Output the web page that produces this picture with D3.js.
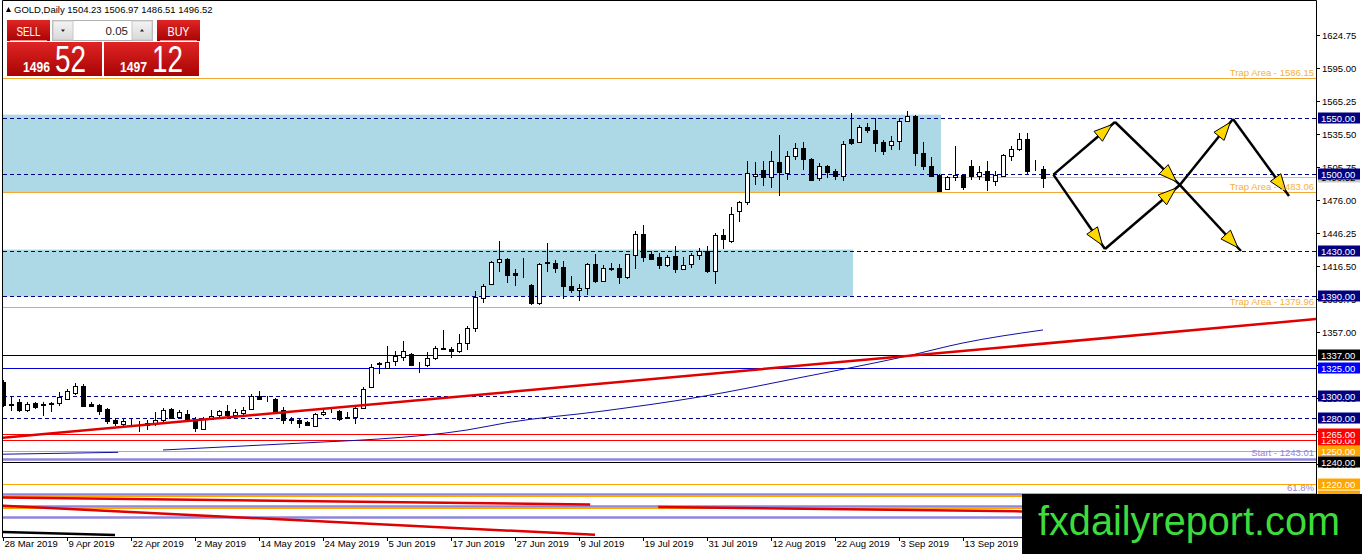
<!DOCTYPE html>
<html>
<head>
<meta charset="utf-8">
<script src="https://cdn.jsdelivr.net/npm/d3@7"></script>
<style>
    body { margin: 0; background: #fff; }
    svg text { font-family: "Liberation Sans", Arial, sans-serif; }
</style>
</head>
<body>
<svg id="chart" width="1362" height="554"></svg>
<script>
/* GOLD daily, 28 Mar 2019 - 27 Sep 2019 */

// price ticks on the right axis
const tickValues = [1624.75, 1595.00, 1565.25, 1535.50, 1505.75, 1476.00, 1446.25, 1416.50,
    1386.75, 1357.00, 1327.25, 1297.50, 1267.75, 1238.00, 1208.25];

// date labels, one every 8 bars from bar 0
const dateLabels = ["28 Mar 2019", "9 Apr 2019", "22 Apr 2019", "2 May 2019", "14 May 2019",
    "24 May 2019", "5 Jun 2019", "17 Jun 2019", "27 Jun 2019", "9 Jul 2019", "19 Jul 2019",
    "31 Jul 2019", "12 Aug 2019", "22 Aug 2019", "3 Sep 2019", "13 Sep 2019"];

// daily candles
const open = [1312, 1292.5, 1294, 1287.5, 1293, 1292, 1293, 1293, 1297.5, 1303,
    1309, 1292.5, 1291.5, 1288, 1277.6, 1274.3, 1276, 1275.3, 1273.7, 1274.6,
    1277.6, 1287.5, 1280.6, 1283.6, 1278.5, 1270, 1279, 1282, 1285.7, 1282,
    1283.6, 1288.7, 1300, 1297.4, 1297, 1286.6, 1278.5, 1277.7, 1276, 1273.2,
    1283.6, 1285.4, 1285.7, 1280, 1280.6, 1288.7, 1307.6, 1328.5, 1325.5, 1330.6,
    1335.4, 1337.5, 1327.9, 1327, 1333.6, 1342.3, 1342, 1339.6, 1347, 1360.5,
    1388.4, 1400.9, 1420.4, 1423.4, 1410.2, 1410, 1399.4, 1383.9, 1419.5, 1419.2,
    1416.2, 1398.8, 1395.8, 1397.3, 1418.9, 1403.3, 1415.3, 1414.7, 1406.3, 1427.2,
    1445.8, 1427.8, 1425.2, 1418, 1425.8, 1414.4, 1418.9, 1427, 1430.2, 1412.3,
    1444.9, 1439.2, 1465.9, 1474.2, 1498, 1503, 1497, 1510.4, 1501.2, 1515.5,
    1523, 1513.1, 1496.1, 1507.2, 1502.7, 1497.6, 1531.1, 1528.1, 1541.9, 1539.5,
    1528.1, 1525.4, 1529, 1547, 1552, 1518.5, 1507.2, 1499.1, 1485.6, 1496.7,
    1498.8, 1507.2, 1498.2, 1502.1, 1494, 1498.2, 1516.1, 1522.1, 1531.1, 1503.6,
    1504.23];
const high = [1314, 1300, 1296.5, 1294, 1294.5, 1294, 1294.5, 1303, 1306, 1311.5,
    1310.5, 1294, 1292.5, 1288.7, 1279.7, 1278.5, 1278.5, 1277, 1277.6, 1285,
    1288.7, 1288.7, 1286.6, 1286.6, 1280.6, 1280.6, 1286.6, 1286.6, 1291.7, 1288,
    1289.6, 1301.6, 1303.7, 1300, 1297.7, 1289.6, 1280.6, 1279, 1276.7, 1284,
    1287, 1288, 1286.6, 1285, 1290, 1307.6, 1328.4, 1330, 1345, 1340.5,
    1348.9, 1338.4, 1330.6, 1339, 1345, 1359, 1343.5, 1355.5, 1362.9, 1394.3,
    1400.3, 1421.3, 1439.2, 1424.3, 1413.8, 1424.3, 1400.5, 1419.5, 1437.7, 1422.2,
    1421.3, 1407.8, 1400.3, 1419.8, 1427.2, 1417.4, 1419.8, 1418.3, 1427.8, 1448.2,
    1453.3, 1430.2, 1428.7, 1426.4, 1434.7, 1425.2, 1428.7, 1433.2, 1434.7, 1446.7,
    1449.7, 1469.7, 1475.1, 1511, 1510, 1511, 1520, 1535, 1520, 1527.5,
    1528.1, 1514, 1509.6, 1508, 1504.2, 1529, 1554.4, 1544, 1545.5, 1549.9,
    1530.5, 1533.5, 1550, 1555.9, 1552.9, 1528.1, 1514.9, 1500, 1498.2, 1524.5,
    1500, 1512.5, 1506.6, 1511.6, 1502.1, 1517.9, 1525.1, 1536.5, 1536.5, 1512.5,
    1506.97];
const low = [1289.5, 1286.5, 1285, 1285, 1288, 1282, 1285, 1291, 1296.5, 1300.5,
    1289.5, 1289.5, 1282.7, 1274.6, 1272.5, 1272.5, 1273, 1267, 1268.6, 1273,
    1276, 1278.5, 1279, 1276, 1267, 1268.6, 1277.6, 1279.7, 1279.7, 1280.6,
    1282, 1287.5, 1295.6, 1294, 1285.7, 1274.6, 1274.6, 1270.8, 1272.5, 1272,
    1282, 1284.6, 1276.7, 1279, 1274.7, 1288, 1306.6, 1319.6, 1324, 1327,
    1331.5, 1326.4, 1320.4, 1325.5, 1332.4, 1341.4, 1333.6, 1338.4, 1341.4, 1357.5,
    1383.3, 1399.4, 1411.4, 1401.8, 1398.8, 1406.3, 1381.8, 1382, 1411.4, 1410.2,
    1386.9, 1392.2, 1385.4, 1390.4, 1401.2, 1402.4, 1412.3, 1400.3, 1404.8, 1414.4,
    1420.4, 1422.8, 1414.4, 1416.2, 1410.8, 1413.2, 1415, 1422.2, 1410.8, 1400.3,
    1431.7, 1437.2, 1456.3, 1471.8, 1490, 1488.6, 1487.1, 1479.6, 1494.6, 1512.5,
    1503.6, 1493.1, 1493.1, 1496.1, 1494.6, 1493.7, 1526, 1528.1, 1536.5, 1519.1,
    1517, 1521.5, 1521.5, 1546.1, 1506.6, 1503.6, 1497, 1484.1, 1485, 1493.1,
    1485, 1494.6, 1494.6, 1484.1, 1488.6, 1497, 1511, 1520, 1500, 1502.1,
    1486.51];
const close = [1291, 1292, 1286.5, 1292.5, 1289.5, 1292.5, 1293.5, 1298.5, 1304.5, 1309,
    1291, 1290.5, 1286.5, 1277.6, 1274.6, 1276.7, 1276.3, 1275, 1275.5, 1277.6,
    1286.6, 1279.7, 1285, 1277.6, 1270, 1279, 1282, 1285.7, 1282, 1285,
    1286.6, 1300, 1297, 1297.7, 1286.6, 1277.7, 1279, 1274.7, 1273, 1283.6,
    1285, 1285.7, 1278.5, 1280.6, 1288.7, 1306.1, 1325.5, 1329, 1330.6, 1335.4,
    1340.5, 1327.6, 1327.6, 1333.6, 1342.9, 1342.8, 1340.2, 1347, 1360.5, 1388.4,
    1398.8, 1420.4, 1423.4, 1409.3, 1408.4, 1410.4, 1383.3, 1418.9, 1420, 1415,
    1398.8, 1395.2, 1397.3, 1418.9, 1403.3, 1415.3, 1414.4, 1406.3, 1427.2, 1445.8,
    1425.2, 1423.7, 1418, 1425.2, 1414.4, 1418, 1427, 1430.2, 1412.3, 1444.9,
    1441.3, 1463.8, 1474.2, 1500.6, 1500, 1497, 1511.6, 1501.2, 1516.1, 1523,
    1513.1, 1494.6, 1507.2, 1502.1, 1498.2, 1526.6, 1527.5, 1541.9, 1538.9, 1527.5,
    1520, 1529, 1547, 1551.4, 1518.5, 1506.6, 1498.2, 1485, 1496.7, 1498.8,
    1488, 1498.2, 1501.5, 1494, 1499.1, 1516.7, 1522.1, 1531.1, 1502.1, 1503.6,
    1496.52];

// horizontal levels
const dashedLevels = [1550, 1500, 1430, 1390, 1300, 1280];
const blackLevels = [1337, 1240];
const blueLevels = [1325];
const redLevels = [1260, 1265];
const orangeLevels = [1250, 1220, 1210, 1198.8];
const orangeBoxLevels = [1250, 1220, 1210];
const trapLevels = [1586.15, 1483.06, 1379.96];
const fibLevels = [1243.01, 1211.0, 1201.0, 1190.7];
const fibNames = ["Start - 1243.01", "61.8%", "", ""];
const bidPrice = 1496.52;

// shaded zones: top price, bottom price, last bar
const zoneTop = [1553.0, 1431.5];
const zoneBottom = [1483.06, 1389.2];
const zoneEndBar = [117, 106];

// red trend line (two anchor points, bar index / price)
const trendBars = [-1, 166];
const trendPrices = [1261.4, 1370.2];

// moving average
const maBars = [20, 30, 40, 47, 58, 63, 75, 87, 100, 113, 120, 130];
const maValues = [1251.0, 1254.6, 1258.2, 1260.9, 1269.0, 1275.6, 1286.1, 1298.7, 1316.7, 1335.6, 1347.4, 1359.1];
const maStartBars = [0, 14.4];
const maStartValues = [1247.2, 1248.9];

// lower lines near the bottom edge
const lowRedFrom = [[-0.5, 1208.2], [81.9, 1199.7], [-0.5, 1201.0]];
const lowRedTo = [[73.4, 1201.9], [127.4, 1195.7], [74.0, 1174.6]];
const lowBlackFrom = [-0.5, 1177.2];
const lowBlackTo = [14.0, 1174.5];

// projected path arrows
const arrowFrom = [[131.3, 1499], [139, 1546.4], [131.3, 1499], [137.75, 1432], [147.1, 1489.7], [153.75, 1549.1], [147.1, 1489.7]];
const arrowTo = [[139, 1546.4], [147.1, 1489.7], [137.75, 1432], [147.1, 1489.7], [153.75, 1549.1], [160.75, 1479.8], [154.75, 1430.2]];

const svg = d3.select("#chart");
const plotLeft = 3, plotRight = 1316, plotTop = 1, plotBottom = 537;

const y = d3.scaleLinear().domain([1624.75, 1357]).range([35, 332.3]);
const x = d3.scaleLinear().domain([0, 8]).range([3, 67]);

svg.append("rect").attr("width", 1362).attr("height", 554).attr("fill", "#fff");

const defs = svg.append("defs");
defs.append("clipPath").attr("id", "plot")
    .append("rect").attr("x", plotLeft).attr("y", plotTop)
    .attr("width", plotRight - plotLeft).attr("height", plotBottom - plotTop);

const g = svg.append("g").attr("clip-path", "url(#plot)");

function hline(level, color, width, dash) {
    g.append("line")
        .attr("x1", plotLeft).attr("x2", plotRight)
        .attr("y1", Math.round(y(level)) + 0.5).attr("y2", Math.round(y(level)) + 0.5)
        .attr("stroke", color).attr("stroke-width", width)
        .attr("stroke-dasharray", dash || null);
}

// bid line under the zones
hline(bidPrice, "#c0c0c0", 1);

// zones
zoneTop.forEach((t, i) => {
    g.append("rect")
        .attr("x", 0).attr("y", y(t))
        .attr("width", x(zoneEndBar[i]) + 2)
        .attr("height", y(zoneBottom[i]) - y(t))
        .attr("fill", "#add8e6");
});

trapLevels.forEach(l => hline(l, "#f0a830", 1));
orangeLevels.forEach(l => hline(l, "#ffa500", 1));
fibLevels.forEach(l => hline(l, "#8f86dc", 2.5));
blackLevels.forEach(l => hline(l, "#000", 1));
blueLevels.forEach(l => hline(l, "#0000d0", 1));
redLevels.forEach(l => hline(l, "#ff0000", 1));
dashedLevels.forEach(l => hline(l, "#000080", 1, "4,3"));

// lower diagonals
lowRedFrom.forEach((p, i) => {
    g.append("line")
        .attr("x1", x(p[0])).attr("y1", y(p[1]))
        .attr("x2", x(lowRedTo[i][0])).attr("y2", y(lowRedTo[i][1]))
        .attr("stroke", "#e00000").attr("stroke-width", 2.5);
});
g.append("line")
    .attr("x1", x(lowBlackFrom[0])).attr("y1", y(lowBlackFrom[1]))
    .attr("x2", x(lowBlackTo[0])).attr("y2", y(lowBlackTo[1]))
    .attr("stroke", "#000").attr("stroke-width", 2.5);

// moving average
const maLine = d3.line().x(d => x(d[0])).y(d => y(d[1])).curve(d3.curveMonotoneX);
g.append("path").datum(maBars.map((b, i) => [b, maValues[i]]))
    .attr("d", maLine).attr("fill", "none").attr("stroke", "#1010a0").attr("stroke-width", 1);
g.append("path").datum(maStartBars.map((b, i) => [b, maStartValues[i]]))
    .attr("d", maLine).attr("fill", "none").attr("stroke", "#1010a0").attr("stroke-width", 1);

// candles
const candles = g.append("g").attr("shape-rendering", "crispEdges");
open.forEach((o, i) => {
    const cx = Math.round(x(i));
    const c = close[i];
    candles.append("line")
        .attr("x1", cx + 0.5).attr("x2", cx + 0.5)
        .attr("y1", y(high[i])).attr("y2", y(low[i]))
        .attr("stroke", "#000");
    const yt = y(Math.max(o, c)), yb = y(Math.min(o, c));
    candles.append("rect")
        .attr("x", cx - 1.5).attr("y", Math.round(yt) + 0.5)
        .attr("width", 4).attr("height", Math.max(0, Math.round(yb - yt)))
        .attr("fill", c >= o ? "#fff" : "#000")
        .attr("stroke", "#000");
});

// trend line
g.append("line")
    .attr("x1", x(trendBars[0])).attr("y1", y(trendPrices[0]))
    .attr("x2", x(trendBars[1])).attr("y2", y(trendPrices[1]))
    .attr("stroke", "#e00000").attr("stroke-width", 2.5);

// arrows
arrowFrom.forEach((p, i) => {
    const x1 = x(p[0]), y1 = y(p[1]), x2 = x(arrowTo[i][0]), y2 = y(arrowTo[i][1]);
    g.append("line").attr("x1", x1).attr("y1", y1).attr("x2", x2).attr("y2", y2)
        .attr("stroke", "#000").attr("stroke-width", 2.5);
    const a = Math.atan2(y2 - y1, x2 - x1);
    const tx = x1 + (x2 - x1) * 0.95, ty = y1 + (y2 - y1) * 0.95;
    const bx = tx - 18 * Math.cos(a), by = ty - 18 * Math.sin(a);
    const px = -Math.sin(a) * 6.5, py = Math.cos(a) * 6.5;
    g.append("path")
        .attr("d", `M${tx},${ty}L${bx + px},${by + py}L${bx - px},${by - py}Z`)
        .attr("fill", "#ffd800").attr("stroke", "#000").attr("stroke-width", 1);
});

// line captions
trapLevels.forEach(l => {
    g.append("text").attr("x", plotRight - 2).attr("y", y(l) - 2)
        .attr("text-anchor", "end").attr("font-size", 9.5).attr("fill", "#f5b041")
        .text(`Trap Area  - ${l.toFixed(2)}`);
});
fibLevels.forEach((l, i) => {
    if (!fibNames[i]) return;
    g.append("text").attr("x", plotRight - 2).attr("y", y(l) - 3)
        .attr("text-anchor", "end").attr("font-size", 9.5).attr("fill", "#8f86dc")
        .text(fibNames[i]);
});

// frame and axes
svg.append("path")
    .attr("d", `M2.5,${plotBottom + 0.5}V0.5H${plotRight + 0.5}V${plotBottom + 0.5}H2.5`)
    .attr("fill", "none").attr("stroke", "#000");

const yAxis = svg.append("g");
tickValues.forEach(v => {
    const ty = Math.round(y(v)) + 0.5;
    yAxis.append("line").attr("x1", plotRight).attr("x2", plotRight + 4).attr("y1", ty).attr("y2", ty).attr("stroke", "#000");
    yAxis.append("text").attr("x", plotRight + 6).attr("y", ty + 3.5)
        .attr("font-size", 9.5).attr("fill", "#000").text(v.toFixed(2));
});

const xAxis = svg.append("g");
dateLabels.forEach((d, i) => {
    const tx = Math.round(x(i * 8)) + 0.5;
    xAxis.append("line").attr("x1", tx).attr("x2", tx).attr("y1", plotBottom).attr("y2", plotBottom + 4).attr("stroke", "#000");
    xAxis.append("text").attr("x", tx + 1).attr("y", plotBottom + 10)
        .attr("font-size", 9.5).attr("fill", "#000").text(d);
});

// level boxes on the price axis
function priceBox(level, bg, fg) {
    const cy = Math.round(y(level));
    svg.append("rect").attr("x", plotRight + 2).attr("y", cy - 5.5).attr("width", 42).attr("height", 11).attr("fill", bg);
    svg.append("text").attr("x", plotRight + 5).attr("y", cy + 3.5)
        .attr("font-size", 9.5).attr("fill", fg).text(level.toFixed(2));
}
priceBox(bidPrice, "#c8c8c8", "#000");
orangeBoxLevels.slice().reverse().forEach(l => priceBox(l, "#ffa500", "#fff"));
blackLevels.slice().reverse().forEach(l => priceBox(l, "#000", "#fff"));
redLevels.forEach(l => priceBox(l, "#ff0000", "#fff"));
blueLevels.forEach(l => priceBox(l, "#0000ff", "#fff"));
dashedLevels.slice().reverse().forEach(l => priceBox(l, "#000080", "#fff"));

// header line
svg.append("path").attr("d", "M6,12L8.5,7L11,12Z").attr("fill", "#000");
svg.append("text").attr("x", 14).attr("y", 13).attr("font-size", 9.5).attr("fill", "#000")
    .text(`GOLD,Daily  ${open[open.length - 1]} ${high[high.length - 1]} ${low[low.length - 1]} ${close[close.length - 1]}`);

// one-click trading panel
const grad = defs.append("linearGradient").attr("id", "red").attr("x1", 0).attr("x2", 0).attr("y1", 0).attr("y2", 1);
grad.append("stop").attr("offset", 0).attr("stop-color", "#e02424");
grad.append("stop").attr("offset", 1).attr("stop-color", "#a80404");
const grey = defs.append("linearGradient").attr("id", "grey").attr("x1", 0).attr("x2", 0).attr("y1", 0).attr("y2", 1);
grey.append("stop").attr("offset", 0).attr("stop-color", "#f4f4f4");
grey.append("stop").attr("offset", 1).attr("stop-color", "#d8d8d8");

const panel = svg.append("g");
[[7, "SELL", 24], [157, "BUY", 22]].forEach(([bx, label, len]) => {
    panel.append("rect").attr("x", bx).attr("y", 20).attr("width", 43).attr("height", 21).attr("fill", "url(#red)");
    panel.append("line").attr("x1", bx + 3).attr("x2", bx + 40).attr("y1", 40.5).attr("y2", 40.5).attr("stroke", "#f08a8a");
    panel.append("text").attr("x", bx + 21.5 - len / 2).attr("y", 35.5).attr("font-size", 13).attr("fill", "#fff")
        .attr("textLength", len).attr("lengthAdjust", "spacingAndGlyphs").text(label);
});
panel.append("rect").attr("x", 52.5).attr("y", 20.5).attr("width", 100).attr("height", 20).attr("fill", "#fff").attr("stroke", "#b0b0b0");
panel.append("rect").attr("x", 53).attr("y", 21).attr("width", 20).attr("height", 19).attr("fill", "url(#grey)").attr("stroke", "#c8c8c8");
panel.append("rect").attr("x", 132).attr("y", 21).attr("width", 20).attr("height", 19).attr("fill", "url(#grey)").attr("stroke", "#c8c8c8");
panel.append("path").attr("d", "M61,29.5L65,29.5L63,32Z").attr("fill", "#222");
panel.append("path").attr("d", "M140,31.5L144,31.5L142,29Z").attr("fill", "#222");
panel.append("text").attr("x", 128).attr("y", 35).attr("text-anchor", "end").attr("font-size", 11.5).attr("fill", "#222").text("0.05");

[[7, "1496", "52"], [104, "1497", "12"]].forEach(([bx, big, pips]) => {
    panel.append("rect").attr("x", bx).attr("y", 42).attr("width", 95).attr("height", 34).attr("fill", "url(#red)");
    panel.append("text").attr("x", bx + 16).attr("y", 71.5).attr("font-size", 14).attr("font-weight", "bold")
        .attr("fill", "#fff").attr("textLength", 27).attr("lengthAdjust", "spacingAndGlyphs").text(big);
    panel.append("text").attr("x", bx + 48).attr("y", 71.5).attr("font-size", 37)
        .attr("fill", "#fff").attr("textLength", 31).attr("lengthAdjust", "spacingAndGlyphs").text(pips);
});

// watermark
svg.append("rect").attr("x", 1022).attr("y", 494).attr("width", 340).attr("height", 60).attr("fill", "#000");
svg.append("text").attr("x", 1038).attr("y", 535).attr("font-size", 40).attr("fill", "#3ddc3d")
    .attr("textLength", 302).attr("lengthAdjust", "spacingAndGlyphs").text("fxdailyreport.com");
</script>
</body>
</html>
